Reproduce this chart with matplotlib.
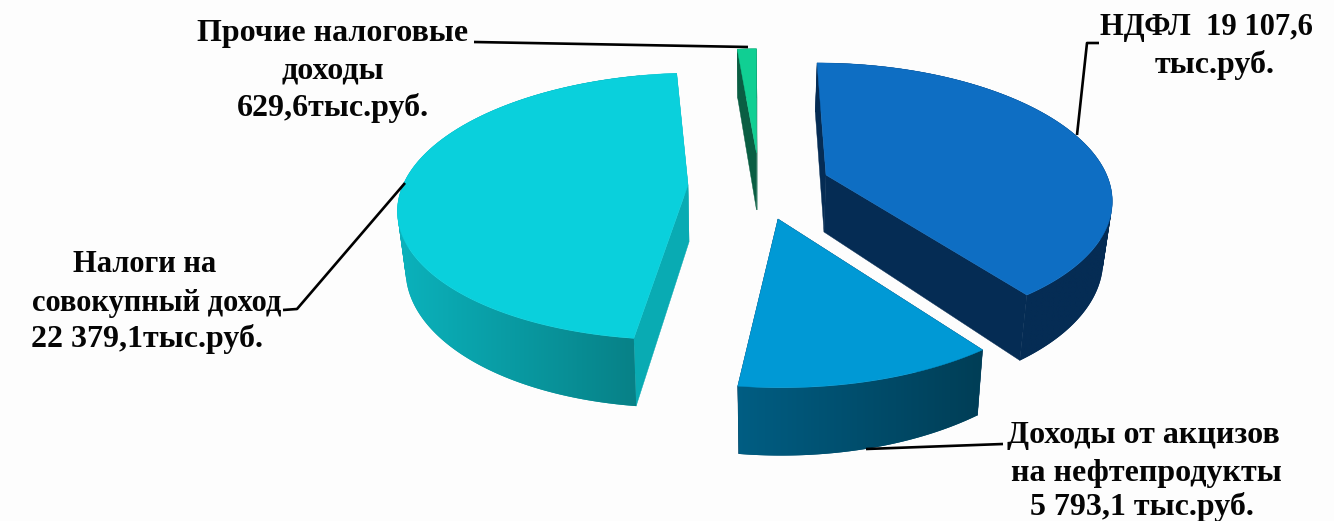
import numpy as np
import matplotlib
matplotlib.use("Agg")
import matplotlib.pyplot as plt
from matplotlib.colors import to_rgb
from matplotlib.path import Path
from matplotlib.patches import PathPatch

names = ["НДФЛ", "Акцизы", "Налоги на совокупный доход", "Прочие"]
values = [19107.6, 5793.1, 22379.1, 629.6]
top_colors = ["#0E6EC3", "#0099D5", "#0AD0DC", "#10CF93"]
radial_colors = ["#052C54", "#052C54", "#09ABB3", "#0A5E43"]
rim_left = ["#052C54", "#005F85", "#0BB5BF", "#0A5E43"]
rim_right = ["#052C54", "#003D55", "#078086", "#0A5E43"]
apex_x = [826, 778, 688, 756.5]
apex_y = [175, 219, 185, 153]
shear = [0.08, 0.02, -0.08, 0.0]
scale_x = [0.985, 1.04, 1.0, 0.95]
scale_y = [1.0, 1.09, 1.0, 0.93]
base_shift = [-2, 0, 1, 0]
draw_order = [3, 2, 0, 1]

label_lines = [
    ("Прочие налоговые", 333, 33, 23), ("доходы", 333, 71, 23), ("629,6тыс.руб.", 333, 108, 23),
    ("НДФЛ  19 107,6", 1206, 28, 22), ("тыс.руб.", 1215, 65, 23),
    ("Налоги на", 145, 265, 22), ("совокупный доход", 157, 303, 22), ("22 379,1тыс.руб.", 147, 339, 23),
    ("Доходы от акцизов", 1143, 436, 23), ("на нефтепродукты", 1146, 473, 23), ("5 793,1 тыс.руб.", 1142, 507, 23),
]
leaders = [
    ([474, 748], [42, 47]),
    ([1077, 1087, 1099], [135, 43, 43]),
    ([405, 297, 283], [183, 309, 310]),
    ([866, 1003], [449, 444]),
]

RX, RY, PERSP, DEPTH, KX = 285, 130, 0.16, 57, 0.975

fig = plt.figure(figsize=(13.34, 5.21), dpi=100, facecolor="#FDFDFD")
ax = fig.add_axes([0, 0, 1, 1])
ax.set_xlim(0, 1334)
ax.set_ylim(521, 0)
ax.axis("off")


def project(t, i):
    f = 1 / (1 + PERSP * np.cos(t))
    dy = RY * -np.cos(t) * f * scale_y[i]
    dx = RX * np.sin(t) * f * scale_x[i] + shear[i] * dy
    return dx, dy, DEPTH * f


def sweep_path(tx, ty, bx, by):
    """Union of the small quads between the upper and lower arc, all wound alike."""
    parts = []
    for k in range(len(tx) - 1):
        q = np.array([[tx[k], ty[k]], [tx[k + 1], ty[k + 1]], [bx[k + 1], by[k + 1]], [bx[k], by[k]]])
        area = np.sum(q[:, 0] * np.roll(q[:, 1], -1) - np.roll(q[:, 0], -1) * q[:, 1])
        if area < 0:
            q = q[::-1]
        parts.append(Path(np.vstack([q, q[0]]), closed=True))
    return Path.make_compound_path(*parts)


total = sum(values)
edges = np.concatenate([[0], np.cumsum(values)]) / total * 2 * np.pi

z = 1
for i in draw_order:
    t = np.linspace(edges[i], edges[i + 1], 240)
    dx, dy, depth = project(t, i)
    tx, ty = apex_x[i] + dx, apex_y[i] + dy
    bx = apex_x[i] + base_shift[i] + dx * KX
    by = apex_y[i] + dy + depth
    ax0, ay0 = apex_x[i], apex_y[i]
    bx0, by0 = ax0 + base_shift[i], ay0 + DEPTH
    for j in (0, -1):
        ax.fill([ax0, tx[j], bx[j], bx0], [ay0, ty[j], by[j], by0],
                color=radial_colors[i], lw=0.3, zorder=z)
    z += 1
    c0, c1 = np.array(to_rgb(rim_left[i])), np.array(to_rgb(rim_right[i]))
    lo, hi = tx.min(), tx.max()
    if i == 2:
        hi = tx[0]
    rim = PathPatch(sweep_path(tx, ty, bx, by), facecolor=tuple((c0 + c1) / 2),
                    edgecolor="none", lw=0, zorder=z)
    ax.add_patch(rim)
    z += 1
    u = np.linspace(0, 1, 256)[None, :, None]
    grad = c0[None, None, :] + (c1 - c0)[None, None, :] * u
    im = ax.imshow(grad, extent=[lo - 12, hi + 6, by.max() + 2, ty.min() - 2], aspect="auto",
                   interpolation="bilinear", zorder=z)
    im.set_clip_path(rim)
    z += 1
    ax.fill(np.r_[ax0, tx], np.r_[ay0, ty], color=top_colors[i], lw=0.3, zorder=z)
    z += 1

ax.set_xlim(0, 1334)
ax.set_ylim(521, 0)

for xs, ys in leaders:
    ax.plot(xs, ys, color="black", lw=1.9, zorder=100, solid_capstyle="butt")

for s, x, y, fs in label_lines:
    ax.text(x, y, s, ha="center", va="center", fontsize=fs, fontweight="bold",
            family="Liberation Serif", color="#050505", zorder=101)

fig.savefig("out.png", dpi=100, facecolor=fig.get_facecolor())
